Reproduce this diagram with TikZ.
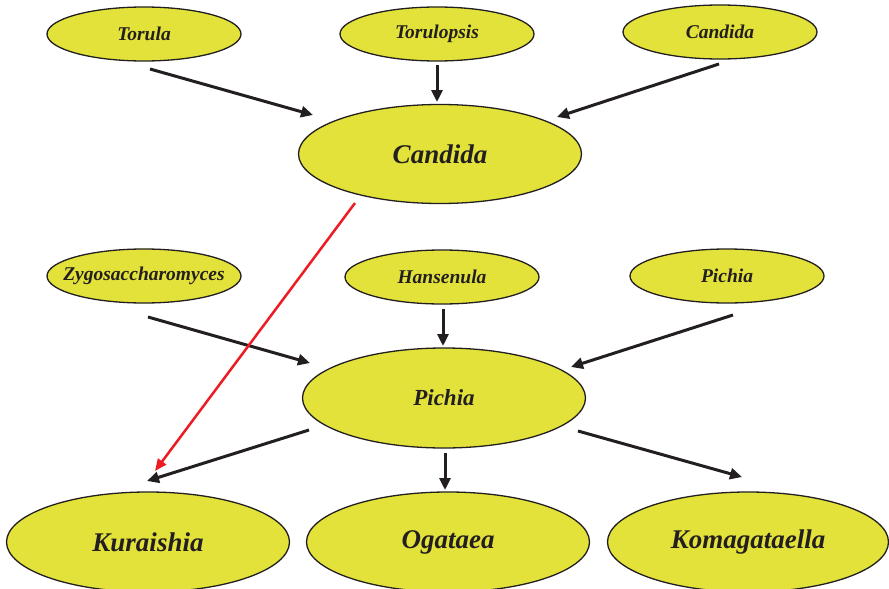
\documentclass[tikz,border=0pt]{standalone}
\usepackage{fontspec}
\setmainfont{Liberation Serif}
\usetikzlibrary{shapes.geometric,arrows.meta}
\definecolor{genusfill}{RGB}{226,226,58}
\definecolor{ink}{RGB}{35,31,32}
\definecolor{redline}{RGB}{237,28,36}
\tikzset{
  genus/.style={ellipse, draw=ink, line width=1.3pt, fill=genusfill, inner sep=0pt,
    text=ink, font=\bfseries\itshape},
  smallgenus/.style={genus, minimum width=194pt, minimum height=54pt,
    font=\fontsize{19.5}{20}\selectfont\bfseries\itshape},
  biggenus/.style={genus, minimum width=283pt, minimum height=99pt,
    font=\fontsize{27}{28}\selectfont\bfseries\itshape},
  link/.style={draw=ink, line width=3pt, -{Triangle[length=12pt,width=11pt]}},
  redlink/.style={draw=redline, line width=2.5pt, -{Triangle[length=12pt,width=10pt]}}
}
\newcommand{\lbl}[1]{\makebox[0pt]{#1}}
\begin{document}
\begin{tikzpicture}[x=1pt,y=-1pt]
\useasboundingbox (0,0) rectangle (889,589);
\clip (0,0) rectangle (889,589);
% first tier: former genera merged into Candida
\node[smallgenus] (torula)     at (144,34) {\lbl{Torula}};
\node[smallgenus] (torulopsis) at (437,34) {\lbl{Torulopsis}};
\node[smallgenus] (candidaS)   at (720,32) {\lbl{Candida}};
\node[biggenus]   (candida)    at (440,154) {\lbl{Candida}};
% second tier: genera merged into Pichia
\node[smallgenus] (zygo)       at (144,276) {\lbl{Zygosaccharomyces}};
\node[smallgenus] (hansenula)  at (442,277) {\lbl{Hansenula}};
\node[smallgenus] (pichiaS)    at (727,276) {\lbl{Pichia}};
\node[biggenus, minimum height=100pt, font=\fontsize{23}{24}\selectfont\bfseries\itshape]
                  (pichia)     at (444,398) {\lbl{Pichia}};
% resulting genera
\node[biggenus, minimum width=283pt, minimum height=100pt] (kuraishia)    at (148,542) {\lbl{Kuraishia}};
\node[biggenus, minimum width=283pt, minimum height=100pt] (ogataea)      at (448,542) {\lbl{Ogataea}};
\node[biggenus, minimum width=281pt, minimum height=100pt] (komagataella) at (748,542) {\lbl{Komagataella}};
% connectors
\draw[link] ([shift={(6,35)}]torula.center)     -- ([shift={(-127,-39)}]candida.center);
\draw[link] ([shift={(0,31)}]torulopsis.center) -- ([shift={(-3,-52)}]candida.center);
\draw[link] ([shift={(-1,32)}]candidaS.center)  -- ([shift={(117,-37)}]candida.center);
\draw[link] ([shift={(4,41)}]zygo.center)       -- ([shift={(-134,-35)}]pichia.center);
\draw[link] ([shift={(1,32)}]hansenula.center)  -- ([shift={(-1,-52)}]pichia.center);
\draw[link] ([shift={(6,39)}]pichiaS.center)    -- ([shift={(127,-31)}]pichia.center);
\draw[link] ([shift={(-135,32)}]pichia.center)  -- ([shift={(-1,-61)}]kuraishia.center);
\draw[link] ([shift={(1,55)}]pichia.center)     -- ([shift={(-3,-52)}]ogataea.center);
\draw[link] ([shift={(134,33)}]pichia.center)   -- ([shift={(-6,-65)}]komagataella.center);
\draw[redlink] ([shift={(-85,49)}]candida.center) -- ([shift={(7,-71)}]kuraishia.center);
\end{tikzpicture}
\end{document}
